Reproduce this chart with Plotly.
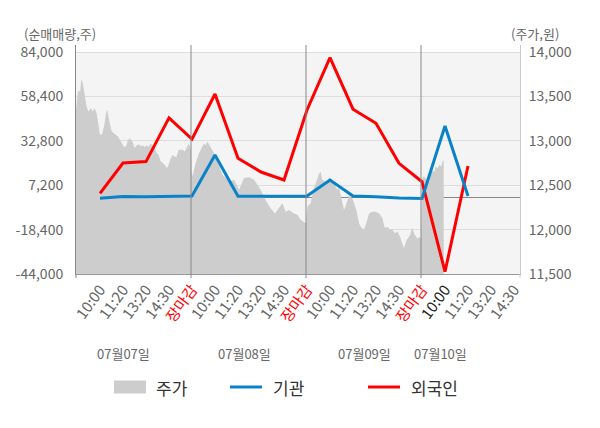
import plotly.graph_objects as go

# ── Dados ─────────────────────────────────────────────────────────────────────

tick_labels = ["10:00", "11:20", "13:20", "14:30", "장마감",
               "10:00", "11:20", "13:20", "14:30", "장마감",
               "10:00", "11:20", "13:20", "14:30", "장마감",
               "10:00", "11:20", "13:20", "14:30"]

# 순매매량 (주) por ponto
foreign_net = [2500, 20000, 20800, 46000, 33800, 59800, 22700, 14800, 10200,
               50600, 80700, 51000, 42900, 19800, 9200, -42700, 18300]
inst_net = [-300, 700, 600, 800, 1000, 24600, 800, 800, 800,
            1000, 10200, 1000, 600, -200, -400, 41300, 1000]

net_ticks = [84000, 58400, 32800, 7200, -18400, -44000]
price_ticks = [14000, 13500, 13000, 12500, 12000, 11500]

# 주가 intraday: minutos desde 09:00 e preço
d1_min = [0, 7, 14, 18, 23, 27, 31, 36, 43, 50, 57, 63, 70, 75, 81, 88, 95, 102, 106,
          113, 120, 126, 133, 142, 149, 156, 163, 170, 176, 183, 192, 199, 206, 213,
          219, 226, 233, 240, 246, 253, 260, 267, 274, 280, 287, 294, 301, 308, 314,
          321, 328, 335, 341, 348, 355, 362, 369, 375, 382, 390]
d1_price = [13350, 13570, 13550, 13690, 13650, 13550, 13460, 13380, 13330, 13370, 13330,
            13370, 13310, 13220, 13070, 13070, 13160, 13310, 13350, 13220, 13120, 13090,
            13070, 13050, 13010, 12970, 12930, 12940, 13010, 13030, 12990, 12920, 12950,
            12960, 12940, 12950, 12930, 12950, 12930, 12970, 12950, 12920, 12860, 12840,
            12770, 12750, 12730, 12690, 12730, 12800, 12840, 12820, 12820, 12900, 12900,
            12900, 12880, 12920, 12970, 12900]
d2_min = [2, 5, 16, 27, 37, 44, 50, 55, 61, 67, 72, 78, 86, 95, 106, 118, 129, 146, 163,
          180, 197, 214, 225, 236, 253, 270, 285, 298, 310, 321, 332, 349, 360, 372, 383, 390]
d2_price = [12640, 12600, 12750, 12860, 12930, 12970, 12950, 12990, 12960, 12930, 12900,
            12860, 12800, 12710, 12620, 12580, 12540, 12560, 12450, 12580, 12590, 12560,
            12500, 12450, 12330, 12240, 12180, 12240, 12300, 12200, 12220, 12180, 12170,
            12110, 12090, 12070]
d3_min = [2, 5, 16, 25, 33, 44, 50, 55, 67, 78, 89, 101, 106, 112, 123, 129, 138, 146, 157,
          163, 172, 180, 188, 197, 206, 214, 225, 236, 248, 259, 267, 276, 285, 293, 301,
          310, 319, 327, 332, 341, 353, 360, 369, 378, 387, 390]
d3_price = [12150, 12260, 12300, 12450, 12520, 12630, 12650, 12560, 12540, 12580, 12560,
            12480, 12450, 12470, 12320, 12220, 12300, 12390, 12350, 12300, 12200, 12070,
            12020, 12000, 12090, 12180, 12200, 12200, 12180, 12130, 12020, 12030, 12000,
            12000, 11960, 11980, 11920, 11850, 11790, 11880, 11940, 12020, 11940, 11900,
            11920, 11880]
d4_min = [2, 5, 10, 19, 28, 36, 45, 50, 56, 62, 68, 73, 77]
d4_price = [12100, 12580, 12600, 12560, 12630, 12670, 12650, 12710, 12690, 12730, 12710,
            12770, 12780]

date_labels = ["07월07일", "07월08일", "07월09일", "07월10일"]
date_pos = [1.04, 6.3, 11.5, 14.8]

SESSION = 390  # 09:00 ~ 15:30

price_x, price_y = [], []
for d, (mins, prices) in enumerate([(d1_min, d1_price), (d2_min, d2_price),
                                    (d3_min, d3_price), (d4_min, d4_price)]):
    price_x += [d * SESSION + m for m in mins]
    price_y += prices

# ── Layout helpers ────────────────────────────────────────────────────────────

W, H = 600, 428
L, R, T, B = 76, 80, 45, 154
PW, PH = W - L - R, H - T - B


def px(x):
    return (x - L) / PW


def py(y):
    return (H - B - y) / PH


GRAY_TXT = "#666666"
FONT = "Noto Sans CJK KR"
RED = "#ff0000"
BLUE = "#0a82c8"

ticktext = []
for i, t in enumerate(tick_labels):
    if t == "장마감":
        ticktext.append(f"<span style='color:{RED}'>{t}</span>")
    elif i == 15:
        ticktext.append(f"<span style='color:#222222'>{t}</span>")
    else:
        ticktext.append(t)

# ── Figura ────────────────────────────────────────────────────────────────────

fig = go.Figure()

# 주가 no eixo base (fica por baixo das linhas)
fig.add_trace(go.Scatter(x=price_x, y=price_y, xaxis="x", yaxis="y", mode="lines",
                         line=dict(width=0), fill="tozeroy", fillcolor="#cdcdcd",
                         name="주가", hoverinfo="skip"))
fig.add_trace(go.Scatter(x=list(range(len(foreign_net))), y=foreign_net,
                         xaxis="x2", yaxis="y2", mode="lines",
                         line=dict(color=RED, width=3), name="외국인"))
fig.add_trace(go.Scatter(x=list(range(len(inst_net))), y=inst_net,
                         xaxis="x2", yaxis="y2", mode="lines",
                         line=dict(color=BLUE, width=3), name="기관"))

pad = 7 / 222
fig.update_layout(
    width=W, height=H,
    margin=dict(l=L, r=R, t=T, b=B),
    paper_bgcolor="white", plot_bgcolor="white",
    showlegend=False,
    font=dict(family=FONT, color=GRAY_TXT, size=13),
    xaxis=dict(range=[0, PW * SESSION / 115], visible=False),
    yaxis=dict(range=[11500, 14000 + 2500 * pad], side="right",
               tickvals=price_ticks, ticktext=[f"{v:,}" for v in price_ticks],
               tickfont=dict(size=14, color=GRAY_TXT),
               showgrid=True, gridcolor="#dddddd", gridwidth=1, zeroline=False,
               showline=True, linecolor="#cccccc", ticks="", ticklabelstandoff=5),
    xaxis2=dict(range=[-24 / 23, 420 / 23], overlaying="x", anchor="y2", side="bottom",
                tickvals=list(range(len(tick_labels))), ticktext=ticktext,
                tickangle=-54, tickfont=dict(size=15, color=GRAY_TXT),
                showgrid=False, zeroline=False, showline=True, linecolor="#999999",
                ticks=""),
    yaxis2=dict(range=[-44000, 84000 + 128000 * pad], overlaying="y", side="left",
                anchor="x2", tickvals=net_ticks, ticktext=[f"{v:,}" for v in net_ticks],
                tickfont=dict(size=14, color=GRAY_TXT), showgrid=False,
                zeroline=True, zerolinecolor="#888888", zerolinewidth=1,
                showline=True, linecolor="#888888", ticks="", ticklabelstandoff=9),
)

# fundo do gráfico
fig.add_shape(type="rect", xref="paper", yref="y", x0=0, x1=1, y0=11500, y1=14000,
              fillcolor="#f4f4f4", line_width=0, layer="below")

# divisões de dias
for d in range(1, 4):
    fig.add_shape(type="line", xref="x", yref="paper", x0=d * SESSION, x1=d * SESSION,
                  y0=-4 / PH, y1=1, line=dict(color="#888888", width=1))
fig.add_shape(type="line", xref="paper", yref="paper", x0=0, x1=0, y0=-4 / PH, y1=0,
              line=dict(color="#888888", width=1))
fig.add_shape(type="line", xref="paper", yref="paper", x0=1, x1=1, y0=-4 / PH, y1=0,
              line=dict(color="#cccccc", width=1))

# títulos dos eixos
fig.add_annotation(text="(순매매량,주)", xref="paper", yref="paper", x=px(22), y=py(33),
                   xanchor="left", yanchor="middle", showarrow=False,
                   font=dict(size=13, color=GRAY_TXT))
fig.add_annotation(text="(주가,원)", xref="paper", yref="paper", x=px(561), y=py(33),
                   xanchor="right", yanchor="middle", showarrow=False,
                   font=dict(size=13, color=GRAY_TXT))

# datas
for lab, pos in zip(date_labels, date_pos):
    fig.add_annotation(text=lab, xref="x2", yref="paper", x=pos, y=py(353),
                       xanchor="center", yanchor="middle", showarrow=False,
                       font=dict(size=13, color=GRAY_TXT))

# legenda manual
leg_y = 387
fig.add_shape(type="rect", xref="paper", yref="paper", x0=px(114), x1=px(146),
              y0=py(leg_y + 6.5), y1=py(leg_y - 6.5), fillcolor="#cdcdcd", line_width=0)
fig.add_shape(type="line", xref="paper", yref="paper", x0=px(230), x1=px(262),
              y0=py(leg_y), y1=py(leg_y), line=dict(color=BLUE, width=3))
fig.add_shape(type="line", xref="paper", yref="paper", x0=px(368), x1=px(400),
              y0=py(leg_y), y1=py(leg_y), line=dict(color=RED, width=3))
for txt, x0 in [("주가", 154), ("기관", 271), ("외국인", 409)]:
    fig.add_annotation(text=txt, xref="paper", yref="paper", x=px(x0), y=py(leg_y),
                       xanchor="left", yanchor="middle", showarrow=False,
                       font=dict(size=17, color="#333333"))

fig.write_html("out.html", config={"displayModeBar": False},
               post_script="document.body.style.margin='0px';")
